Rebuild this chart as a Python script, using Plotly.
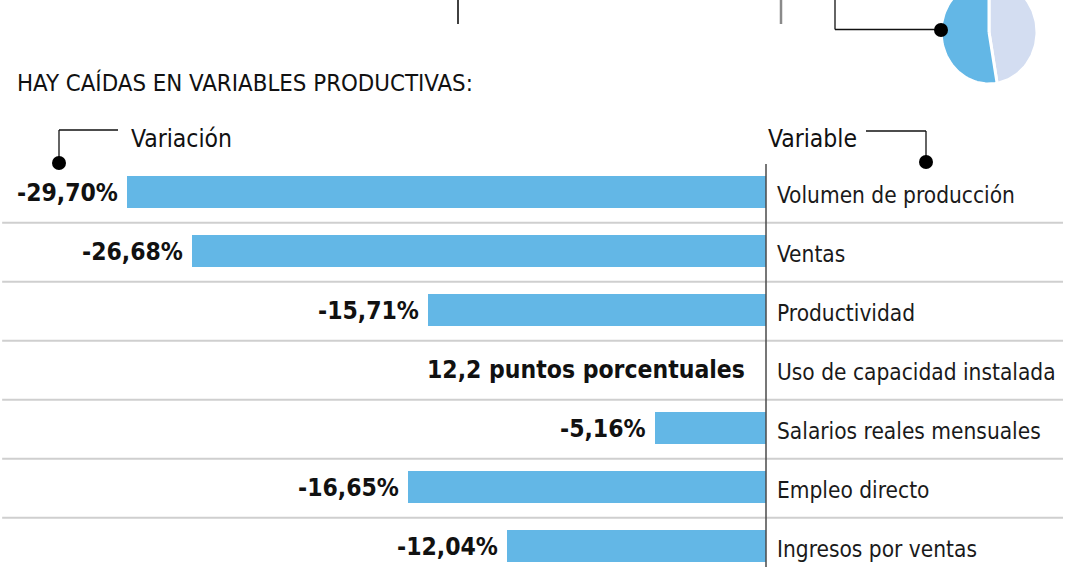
import numpy as np
import plotly.graph_objects as go

# ---------------- data ----------------
title_text = "HAY CAÍDAS EN VARIABLES PRODUCTIVAS:"
header_left = "Variación"
header_right = "Variable"
categories = ["Volumen de producción", "Ventas", "Productividad",
              "Uso de capacidad instalada", "Salarios reales mensuales",
              "Empleo directo", "Ingresos por ventas"]
variation = [-29.70, -26.68, -15.71, None, -5.16, -16.65, -12.04]
value_labels = ["-29,70%", "-26,68%", "-15,71%", "12,2 puntos porcentuales",
                "-5,16%", "-16,65%", "-12,04%"]
pie_values = [47.3, 52.7]          # lavender, blue (partial pie at top right)

# ---------------- style ----------------
W, H = 1080, 567
BLUE = "#63b7e6"
LAV = "#d3ddf1"
FONT = "DejaVu Sans Condensed, Liberation Sans Narrow, Arial Narrow, sans-serif"
ZERO_PX = 766.0
PX_PER_UNIT = 21.52
ROW0_PX = 192.0
ROW_H = 59.0

x_lo = -ZERO_PX / PX_PER_UNIT
x_hi = (W - ZERO_PX) / PX_PER_UNIT
y_top = -ROW0_PX / ROW_H
y_bot = (H - ROW0_PX) / ROW_H

ypos = list(range(len(categories)))

fig = go.Figure()
fig.add_trace(go.Bar(
    x=variation, y=ypos, orientation="h", width=0.54,
    marker=dict(color=BLUE, line=dict(width=0)),
    hoverinfo="skip", showlegend=False,
))

# value labels + category labels
for i, (v, lab, cat) in enumerate(zip(variation, value_labels, categories)):
    fig.add_annotation(
        x=v if v is not None else 0, y=i, xref="x", yref="y",
        text=f"<b>{lab}</b>", showarrow=False, xanchor="right", yanchor="middle",
        xshift=-7 if v is not None else -19,
        font=dict(family=FONT, size=24.5, color="#111111"),
    )
    fig.add_annotation(
        x=0, y=i + 0.05, xref="x", yref="y", text=cat, showarrow=False,
        xanchor="left", yanchor="middle", xshift=9,
        font=dict(family=FONT, size=22.5, color="#1a1a1a"),
    )

shapes = []
# row separators
for i in range(len(categories) - 1):
    shapes.append(dict(type="line", xref="paper", yref="y",
                       x0=0.002, x1=1063 / W, y0=i + 0.52, y1=i + 0.52,
                       line=dict(color="#cfcfcf", width=2)))
# zero line
shapes.append(dict(type="line", xref="x", yref="y", x0=0, x1=0,
                   y0=(164 - ROW0_PX) / ROW_H, y1=y_bot + 0.2,
                   line=dict(color="#4a4a4a", width=1.5)))

# decorative connectors (pixel axes x2/y2)
def seg(x0, y0, x1, y1, color="#111111", width=1.3):
    return dict(type="line", xref="x2", yref="y2", x0=x0, y0=y0, x1=x1, y1=y1,
                line=dict(color=color, width=width))

def dot(cx, cy, r=7):
    return dict(type="circle", xref="x2", yref="y2", x0=cx - r, x1=cx + r,
                y0=cy - r, y1=cy + r, fillcolor="#000000",
                line=dict(color="#000000", width=0))

shapes += [
    seg(458, 0, 458, 24, width=1.6),
    seg(781, 0, 781, 24, color="#8a8a8a", width=2.5),
    seg(835, 0, 835, 29.5), seg(835, 29.5, 941, 29.5),
    seg(118, 130, 59, 130), seg(59, 130, 59, 158),
    seg(866, 131, 926, 131), seg(926, 131, 926, 156),
]

# pie drawn as filled wedges on the pixel axes
cx, cy, rx, ry = 989.0, 32.0, 48.0, 52.0
fracs = np.array(pie_values) / np.sum(pie_values)
starts = np.concatenate([[0.0], np.cumsum(fracs)[:-1]]) * 2 * np.pi
ends = np.cumsum(fracs) * 2 * np.pi
for col, a0, a1 in zip([LAV, BLUE], starts, ends):
    th = np.linspace(a0, a1, 80)
    xs = np.concatenate([[cx], cx + rx * np.sin(th), [cx]])
    ys = np.concatenate([[cy], cy - ry * np.cos(th), [cy]])
    fig.add_trace(go.Scatter(x=xs, y=ys, xaxis="x2", yaxis="y2", mode="lines",
                             fill="toself", fillcolor=col,
                             line=dict(color="white", width=3),
                             hoverinfo="skip", showlegend=False))

shapes += [dot(941, 30), dot(59, 163), dot(926, 162)]

fig.add_annotation(x=15 / W, y=1 - 83 / H, xref="paper", yref="paper",
                   text=title_text, showarrow=False, xanchor="left", yanchor="middle",
                   font=dict(family=FONT, size=23.8, color="#111111"))
fig.add_annotation(x=129 / W, y=1 - 138 / H, xref="paper", yref="paper",
                   text=header_left, showarrow=False, xanchor="left", yanchor="middle",
                   font=dict(family=FONT, size=24.5, color="#111111"))
fig.add_annotation(x=766 / W, y=1 - 138 / H, xref="paper", yref="paper",
                   text=header_right, showarrow=False, xanchor="left", yanchor="middle",
                   font=dict(family=FONT, size=24.5, color="#111111"))

fig.update_layout(
    width=W, height=H, margin=dict(l=0, r=0, t=0, b=0),
    paper_bgcolor="white", plot_bgcolor="white", showlegend=False,
    bargap=0,
    xaxis=dict(range=[x_lo, x_hi], visible=False, fixedrange=True),
    yaxis=dict(range=[y_bot, y_top], visible=False, fixedrange=True),
    xaxis2=dict(range=[0, W], visible=False, overlaying="x", fixedrange=True),
    yaxis2=dict(range=[H, 0], visible=False, overlaying="y", fixedrange=True),
    shapes=shapes,
)

fig.write_html("out.html")
